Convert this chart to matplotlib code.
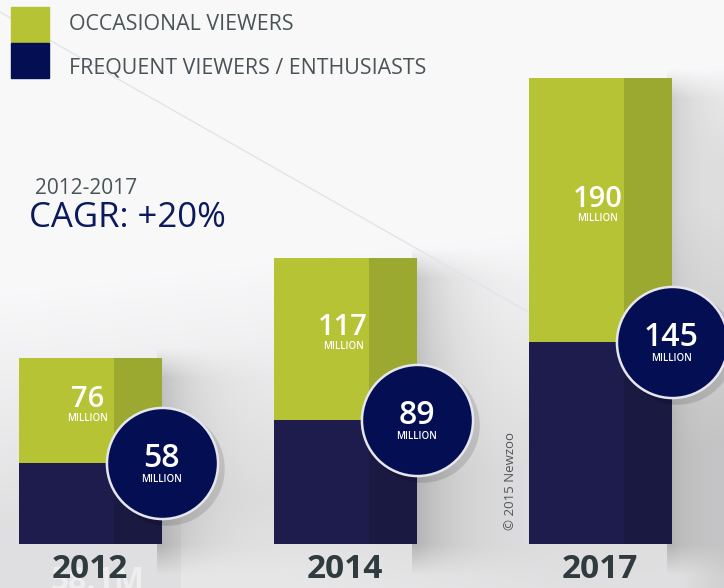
import numpy as np
import matplotlib.pyplot as plt

plt.rcParams['font.family'] = ['Open Sans', 'DejaVu Sans']

# data (millions of viewers)
years = ['2012', '2014', '2017']
frequent = [58, 89, 145]
occasional = [76, 117, 190]
legend_labels = ['OCCASIONAL VIEWERS', 'FREQUENT VIEWERS / ENTHUSIASTS']
cagr_period = '2012-2017'
cagr_text = 'CAGR: +20%'
credit = '\u00a9 2015 Newzoo'

GREEN = '#b5c334'
GREEN_DARK = '#9ba930'
NAVY = '#1e1c4d'
NAVY_DARK = '#1a1942'
CIRCLE = '#030f52'
GREY_TXT = '#4a5457'

W, H = 724, 588
BASE = 544          # pixel row of the bar baseline
K = 1.39            # pixels per million

fig = plt.figure(figsize=(W / 100, H / 100), dpi=100)
ax = fig.add_axes([0, 0, 1, 1])
ax.set_xlim(0, W)
ax.set_ylim(-(H - BASE) / K, BASE / K)
ax.axis('off')


def py(row):
    # pixel row (from top) -> data y
    return (BASE - row) / K


xs = 90 + 255 * np.arange(len(years))
bw, dw = 143, 48
tops = np.array(frequent) + np.array(occasional)

# background: light grey with soft shading and bar shadows
yy, xx = np.mgrid[0:H, 0:W].astype(float)
bg = np.full((H, W), 0.975)
line = 290 - 0.12 * xx
bg -= 0.10 * np.clip((yy - line) / 240, 0, 1)
bg += 0.03 * np.clip((yy - (430 + 0.25 * xx)) / 80, 0, 1) * (xx > 180)
bg -= 0.06 * np.clip((xx - 680) / 44, 0, 1) * np.clip((yy - 60) / 100, 0, 1)
for x, t in zip(xs, tops):
    right = x + bw / 2
    top_row = BASE - t * K
    d = xx - right
    vert = np.clip((yy - top_row + 10) / 30, 0, 1) * np.clip((BASE + 30 - yy) / 30, 0, 1)
    sh = np.where(d > -5, np.exp(-np.clip(d, 0, None) / 40.0), 0) * vert
    sh *= (xx > x - bw / 2 + 10)
    bg -= 0.17 * sh
bg = np.clip(bg, 0, 1)
rgb = np.dstack([bg, bg * 0.998, bg * 1.004])
ax.imshow(np.clip(rgb, 0, 1), extent=[0, W, py(H), py(0)], aspect='auto', zorder=0)

# faint diagonal streak
ax.plot([0, 560], [py(12), py(330)], color='#e4e4e7', lw=1.0, zorder=1)

# stacked bars with darker right face
ax.bar(xs, frequent, width=bw, color=NAVY, zorder=2)
ax.bar(xs, occasional, bottom=frequent, width=bw, color=GREEN, zorder=2)
ax.bar(xs + bw / 2 - dw / 2, frequent, width=dw, color=NAVY_DARK, zorder=3)
ax.bar(xs + bw / 2 - dw / 2, occasional, bottom=frequent, width=dw, color=GREEN_DARK, zorder=3)

# occasional labels
for x, f, o in zip(xs, frequent, occasional):
    mid = f + o / 2
    ax.text(x - 2, mid + 11 / K, str(o), color='white', fontsize=21, fontweight='semibold',
            ha='center', va='center', zorder=5)
    ax.text(x - 2, mid - 8 / K, 'MILLION', color='white', fontsize=7, fontweight='semibold',
            ha='center', va='center', zorder=5)

# frequent circles
cx = xs + bw / 2
ax.scatter(cx + 5, np.array(frequent) - 5 / K, s=6800, color='black', alpha=0.12, zorder=5, linewidths=0)
ax.scatter(cx, frequent, s=6400, color=CIRCLE, edgecolors='#e6e6ee', linewidths=1.8, zorder=6)
for x, f in zip(cx, frequent):
    ax.text(x, f + 5 / K, str(f), color='white', fontsize=23, fontweight='semibold',
            ha='center', va='center', zorder=7)
    ax.text(x, f - 16 / K, 'MILLION', color='white', fontsize=7, fontweight='semibold',
            ha='center', va='center', zorder=7)

# year labels (with ghosted text behind 2012)
ax.text(xs[0] + 8, py(582), '58.1M', color='#eeeeee', fontsize=23, fontweight='bold',
        ha='center', va='center', zorder=3)
for x, y in zip(xs, years):
    ax.text(x, py(570), y, color='#2f3b3e', fontsize=24, fontweight='bold',
            ha='center', va='center', zorder=4)

# legend
label_rows = [25, 68]
for i, (lab, col) in enumerate(zip(legend_labels, [GREEN, CIRCLE])):
    top = 7 + 36 * i
    ax.add_patch(plt.Rectangle((11, py(top + 35)), 38, 35 / K, color=col, zorder=4))
    ax.text(69, py(label_rows[i]), lab, color=GREY_TXT, fontsize=15.4, ha='left', va='center', zorder=4)

# CAGR annotation
ax.text(35, py(189), cagr_period, color=GREY_TXT, fontsize=15, ha='left', va='center', zorder=4)
ax.text(29, py(218), cagr_text, color='#0b1a5c', fontsize=25, ha='left', va='center', zorder=4)

ax.text(511, py(481), credit, color='#505658', fontsize=9.5, rotation=90,
        ha='center', va='center', zorder=4)

fig.savefig('out.png', dpi=100)
